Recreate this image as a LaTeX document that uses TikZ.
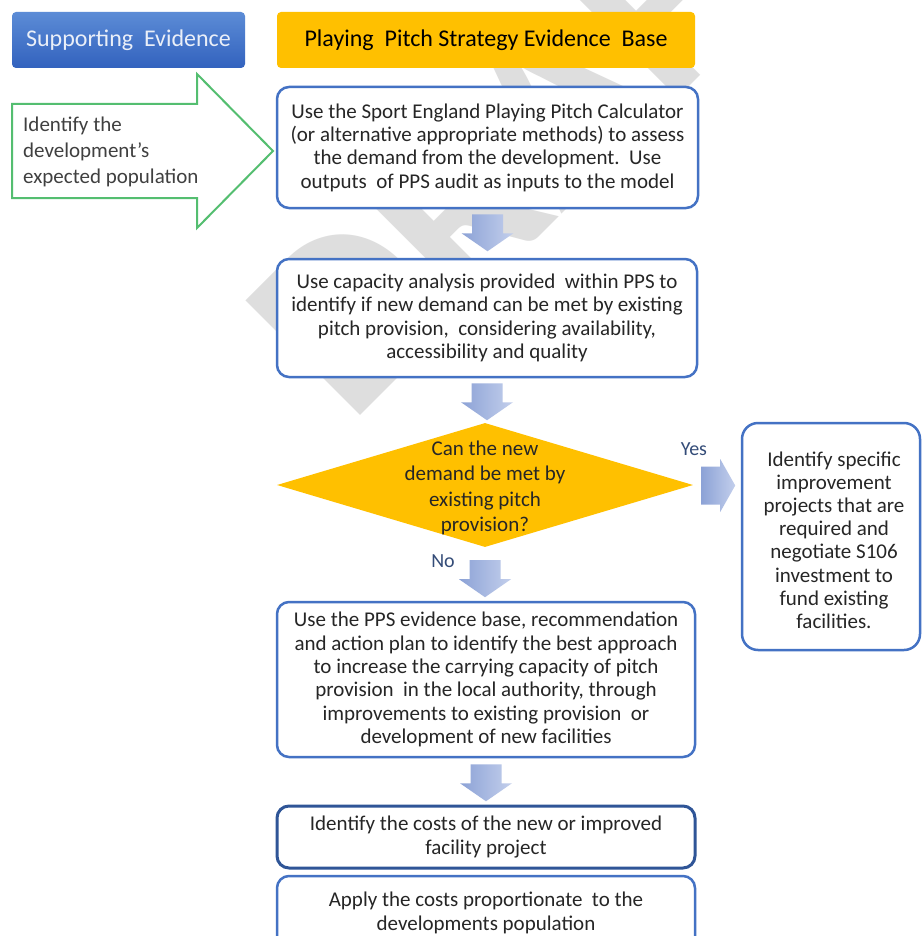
\documentclass[tikz,border=0pt]{standalone}
\usepackage{fontspec}
\setmainfont{Carlito}
\usetikzlibrary{shapes.geometric,calc}
\definecolor{boxblue}{RGB}{68,114,196}
\definecolor{darkbox}{RGB}{47,85,151}
\definecolor{gold}{RGB}{255,192,0}
\definecolor{arrowgreen}{RGB}{84,190,112}
\definecolor{txt}{RGB}{38,38,38}
\definecolor{lbl}{RGB}{52,76,120}
\definecolor{wm}{RGB}{222,222,222}
\definecolor{arrL}{RGB}{140,162,214}
\definecolor{arrR}{RGB}{195,207,236}
\definecolor{hdtop}{RGB}{92,140,214}
\definecolor{hdbot}{RGB}{50,98,190}
\definecolor{hdtxt}{RGB}{234,239,248}
\newcommand\blkdown[2]{\shade[left color=arrL, right color=arrR] ($(#1)+(-15.5,#2)$) -- ++(0,19) -- ++(-10.5,0) -- ++(26,18) -- ++(26,-18) -- ++(-10.5,0) -- ++(0,-19) -- cycle;}
\begin{document}
\begin{tikzpicture}[x=1pt,y=-1pt,
  flowbox/.style={draw=boxblue, line width=2.5pt, rounded corners=12pt, fill=white, text=txt, align=center, font=\fontsize{21}{23.3}\selectfont, inner sep=0pt},
  hdr/.style={rounded corners=4pt, align=center, inner sep=0pt, font=\fontsize{24}{28}\selectfont, minimum height=56pt},
  lab/.style={text=lbl, font=\fontsize{20}{24}\selectfont, inner sep=0pt}]
\clip (0,0) rectangle (922,936);
\fill[white] (0,0) rectangle (922,936);
% watermark
\node[rotate=45, anchor=base west, inner sep=0pt, text=wm, font=\fontsize{250}{250}\selectfont\bfseries] (wmk) at (350,426) {DRAFT};
% headers
\node[hdr, top color=hdtop, bottom color=hdbot, text=hdtxt, minimum width=233pt] (h1) at (128.5,40) {Supporting\ \ Evidence};
\node[hdr, fill=gold, text=black, minimum width=418pt] (h2) at (486,40) {Playing\ \ Pitch Strategy Evidence\ \ Base};
% green arrow
\draw[arrowgreen, line width=2pt, fill=white, line join=miter] (12,104) -- (197,104) -- (197,74) -- (273,151) -- (197,228) -- (197,198) -- (12,198) -- cycle;
\node[anchor=west, align=left, inner sep=0pt, text=black!75, font=\fontsize{21}{26}\selectfont] (pop) at (23,152) {Identify the\\development’s\\expected population};
% boxes
\node[flowbox, minimum width=421pt, minimum height=121pt] (b1) at (487.5,147.5) {Use the Sport England Playing Pitch Calculator\\(or alternative appropriate methods) to assess\\the demand from the development.\ \ Use\\outputs\ \ of PPS audit as inputs to the model};
\node[flowbox, minimum width=420pt, minimum height=118pt] (b2) at (487,318) {Use capacity analysis provided\ \ within PPS to\\identify if new demand can be met by existing\\pitch provision,\ \ considering availability,\\accessibility and quality};
\node[diamond, fill=gold, minimum width=416pt, minimum height=124pt, inner sep=0pt] (dec) at (485,485) {};
\node[align=center, inner sep=0pt, text=txt, font=\fontsize{21}{25.5}\selectfont] (dect) at (485,488) {Can the new\\demand be met by\\existing pitch\\provision?};
\node[flowbox, minimum width=178pt, minimum height=227pt, rounded corners=16pt] (br) at (831,536.5) {};
\node[align=center, inner sep=0pt, text=txt, font=\fontsize{21}{23.2}\selectfont] (brt) at (834,540) {Identify specific\\improvement\\projects that are\\required and\\negotiate S106\\investment to\\fund existing\\facilities.};
\node[flowbox, minimum width=418pt, minimum height=155pt] (b3) at (486,679.5) {Use the PPS evidence base, recommendation\\and action plan to identify the best approach\\to increase the carrying capacity of pitch\\provision\ \ in the local authority, through\\improvements to existing provision\ \ or\\development of new facilities};
\node[flowbox, draw=darkbox, line width=3pt, minimum width=418pt, minimum height=62pt] (b4) at (486,837) {Identify the costs of the new or improved\\facility project};
\node[flowbox, minimum width=418pt, minimum height=74pt] (b5) at (486,913) {Apply the costs proportionate\ \ to the\\developments population};
% labels
\node[lab] (yes) at (694,449) {Yes};
\node[lab] (no) at (443,561) {No};
% block arrows
\blkdown{b1.south}{5}
\blkdown{b2.south}{5}
\blkdown{dec.south}{13}
\blkdown{b3.south}{6}
\shade[left color=arrL, right color=arrR] ($(dec.east)+(8,-18.5)$) -- ++(19,0) -- ++(0,-7.5) -- ++(15,26.5) -- ++(-15,26.5) -- ++(0,-7.5) -- ++(-19,0) -- cycle;
\end{tikzpicture}
\end{document}
